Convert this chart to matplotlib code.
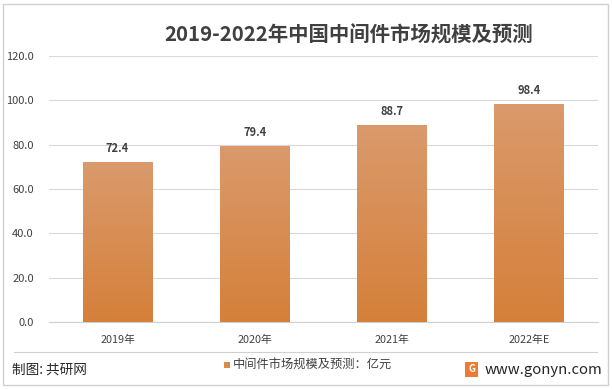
import matplotlib
matplotlib.use("Agg")
import matplotlib.pyplot as plt
import numpy as np
from matplotlib.patches import Rectangle
from matplotlib.colors import LinearSegmentedColormap

plt.rcParams['font.family'] = ['Noto Sans CJK SC', 'DejaVu Sans']

categories = ["2019年", "2020年", "2021年", "2022年E"]
values = [72.4, 79.4, 88.7, 98.4]
yticks = [0, 20, 40, 60, 80, 100, 120]
title = "2019-2022年中国中间件市场规模及预测"
legend_label = "中间件市场规模及预测：亿元"

W, H = 612, 389
fig = plt.figure(figsize=(W/100, H/100), dpi=100)
fig.patch.set_facecolor("white")

# outer border
fig.add_artist(Rectangle((3/W, 4/H), 605/W, 381/H, transform=fig.transFigure,
                         fill=False, edgecolor="#D0D0D0", linewidth=1.0))

ax = fig.add_axes([49/W, 1-322/H, (598-49)/W, (322-56)/H])
x = np.arange(len(categories))
bars = ax.bar(x, values, width=0.51, color="#D98B4C", zorder=3)
ax.set_xlim(-0.5, len(categories)-0.5)
ax.set_ylim(0, 120)
ax.set_yticks(yticks)
ax.set_yticklabels([f"{v:.1f}" for v in yticks], fontsize=8, color="#404040")
ax.set_xticks(x)
ax.set_xticklabels(categories, fontsize=7.8, color="#404040")
ax.tick_params(axis="both", length=0)
ax.tick_params(axis="y", pad=11)
ax.tick_params(axis="x", pad=9)
ax.grid(axis="y", color="#D9D9D9", linewidth=0.8, zorder=0)
for s in ["top", "right", "left"]:
    ax.spines[s].set_visible(False)
ax.spines["bottom"].set_color("#D0D0D0")
ax.spines["bottom"].set_linewidth(0.8)

# gradient fill for each bar
cmap = LinearSegmentedColormap.from_list("g", ["#D5803A", "#DA9A6C"])
grad = np.linspace(0, 1, 256).reshape(-1, 1)
for b, v in zip(bars, values):
    x0, w, h = b.get_x(), b.get_width(), b.get_height()
    im = ax.imshow(grad, extent=[x0, x0+w, 0, h], origin="lower", cmap=cmap,
                   aspect="auto", zorder=3)
    im.set_clip_path(b)
    b.set_alpha(0)
    ax.annotate(f"{v:.1f}", (x0+w/2, h), xytext=(0, 5), textcoords="offset points",
                ha="center", va="bottom", fontsize=8, fontweight="bold", color="#404040")
ax.set_aspect("auto")

fig.text(349/W, 1-35/H, title, ha="center", va="center", fontsize=14.7,
         fontweight="bold", color="#404040")

# separator line
fig.add_artist(plt.Line2D([14/W, 597/W], [1-352/H, 1-352/H], transform=fig.transFigure,
                          color="#D0D0D0", linewidth=0.8))

# legend
fig.add_artist(Rectangle((224/W, 1-368/H), 6/W, 6/H, transform=fig.transFigure,
                         facecolor="#D98B4C", edgecolor="none"))
fig.text(233/W, 1-365/H, legend_label, ha="left", va="center", fontsize=8.8, color="#404040")

fig.text(12/W, 1-370/H, "制图: 共研网", ha="left", va="center", fontsize=9.8, color="#262626")

# logo
fig.add_artist(Rectangle((465/W, 1-377/H), 13/W, 15/H, transform=fig.transFigure,
                         facecolor="#EE7B32", edgecolor="none"))
fig.text(471.5/W, 1-369.5/H, "G", ha="center", va="center", fontsize=7, fontweight="bold", color="white")
fig.text(485/W, 1-370/H, "www.gonyn.com", ha="left", va="center", fontsize=10.7, color="#262626")

fig.savefig("out.png", dpi=100, facecolor="white")
